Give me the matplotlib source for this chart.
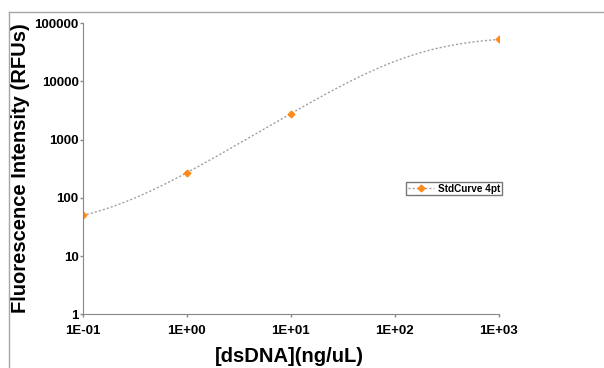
import numpy as np
import matplotlib
matplotlib.use("Agg")
import matplotlib.pyplot as plt
from matplotlib.lines import Line2D

# standard curve points
conc = np.array([0.1, 1.0, 10.0, 1000.0])      # ng/uL
rfu = np.array([50.0, 270.0, 2800.0, 53000.0])  # RFUs
series_name = "StdCurve 4pt"
x_ticks = [0.1, 1, 10, 100, 1000]
y_ticks = [1, 10, 100, 1000, 10000, 100000]


def fit_4pl(x, y):
    # crude grid search over slope / midpoint, linear solve for bottom / top
    best = None
    for b in np.linspace(0.5, 2.5, 201):
        for lc in np.linspace(0.5, 4.5, 201):
            g = 1.0 / (1.0 + (x / 10**lc) ** b)
            M = np.column_stack([g, 1 - g]) / y[:, None]
            ad, *_ = np.linalg.lstsq(M, np.ones_like(y), rcond=None)
            pred = ad[0] * g + ad[1] * (1 - g)
            if np.any(pred <= 0):
                continue
            err = np.sum((np.log10(pred) - np.log10(y)) ** 2)
            if best is None or err < best[0]:
                best = (err, ad[0], b, 10**lc, ad[1])
    return best[1:]


A, B, C, D = fit_4pl(conc, rfu)
xs = np.logspace(np.log10(conc.min()), np.log10(conc.max()), 300)
ys = D + (A - D) / (1 + (xs / C) ** B)

plt.rcParams["font.family"] = ["Liberation Sans", "DejaVu Sans"]
plt.rcParams["font.weight"] = "bold"

fig = plt.figure(figsize=(6.04, 3.68), dpi=100)
ax = fig.add_axes([0.137, 0.1459, 0.6887, 0.7908])

ax.plot(xs, ys, color="#a0a0a0", lw=1, ls=(0, (1.5, 1.5)))
ax.plot(conc, rfu, ls="none", marker="D", ms=3.4, color="#ff8a1c")

ax.set_xscale("log")
ax.set_yscale("log")
ax.set_xlim(0.1, 1000)
ax.set_ylim(1, 100000)
ax.set_xticks(x_ticks)
ax.set_xticklabels([f"{v:.0E}" for v in x_ticks])
ax.set_yticks(y_ticks)
ax.set_yticklabels([str(v) for v in y_ticks])
ax.minorticks_off()
ax.tick_params(axis="both", labelsize=9.5, colors="#888888", labelcolor="black",
               length=2.5, width=1)
ax.tick_params(axis="y", pad=0.5)
ax.tick_params(axis="x", pad=5.5)
for s in ["top", "right"]:
    ax.spines[s].set_visible(False)
for s in ["left", "bottom"]:
    ax.spines[s].set_color("#888888")

ax.set_ylabel("Fluorescence Intensity (RFUs)", fontsize=14.5, fontweight="bold",
              va="center")
ax.yaxis.set_label_coords(-0.1507, 0.501)
# reference crops this label at the bottom edge; keep it just inside instead
fig.text(289 / 604, 1.5 / 368, "[dsDNA](ng/uL)", fontsize=14.5,
         fontweight="bold", ha="center", va="bottom")

handle = Line2D([], [], color="#a0a0a0", lw=1, ls=(0, (1.5, 1.5)),
                marker="D", ms=3.4, mfc="#ff8a1c", mec="#ff8a1c")
leg = fig.legend([handle], [series_name], loc="upper left",
                 bbox_to_anchor=(406 / 604, 1 - 182 / 368), fontsize=7.2,
                 frameon=True, fancybox=False, handlelength=2.6,
                 borderpad=0.15, handletextpad=0.45, borderaxespad=0)
leg.get_frame().set_edgecolor("#555555")
leg.get_frame().set_linewidth(1)

# outer chart frame
fig.add_artist(Line2D([9 / 604, 1], [1 - 11.5 / 368] * 2,
                      transform=fig.transFigure, color="#a6a6a6", lw=1))
fig.add_artist(Line2D([9 / 604] * 2, [1 - 11.5 / 368, 0],
                      transform=fig.transFigure, color="#a6a6a6", lw=1))

fig.savefig("out.png", dpi=100)
